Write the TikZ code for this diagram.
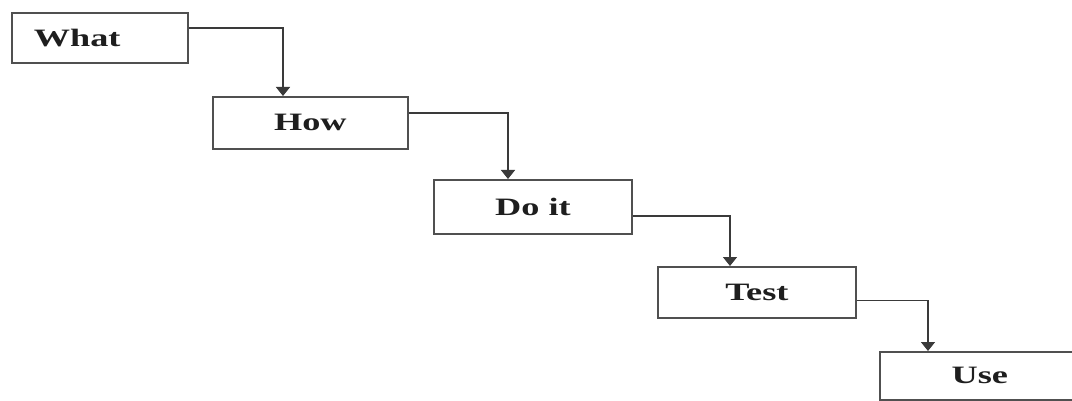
\documentclass[tikz,border=0pt]{standalone}
\usepackage{fontspec}
\setmainfont{Liberation Serif}
\usepackage{graphicx}
\usetikzlibrary{arrows.meta}
\definecolor{boxline}{HTML}{505050}
\definecolor{conline}{HTML}{3A3A3A}
\definecolor{txt}{HTML}{1E1E1E}
\tikzset{
  stepbox/.style={draw=boxline, line width=1.8pt, rectangle, inner sep=0pt, anchor=north west,
    font=\fontsize{25}{25}\selectfont\bfseries, text=txt},
  conn/.style={draw=conline, line width=1.4pt, -{Triangle[width=14pt,length=9pt]}}
}
\newcommand{\wide}[1]{\scalebox{1.45}[1]{#1}}
\begin{document}
\begin{tikzpicture}[x=1pt,y=-1pt]
\useasboundingbox (0,0) rectangle (1072,401);
\fill[white] (0,0) rectangle (1072,401);
\clip (0,0) rectangle (1072,401);
\node[stepbox, minimum width=176pt, minimum height=50pt] (what) at (11,12) {\makebox[176pt][l]{\hspace{22pt}\wide{What}}};
\node[stepbox, minimum width=195pt, minimum height=52pt] (how) at (212,96) {\wide{How}};
\node[stepbox, minimum width=198pt, minimum height=54pt] (doit) at (433,179) {\wide{Do it}};
\node[stepbox, minimum width=198pt, minimum height=51pt] (test) at (657,266) {\wide{Test}};
\node[stepbox, minimum width=200pt, minimum height=48pt] (use) at (879,351) {\wide{Use}};
\draw[conn] ([yshift=10pt]what.east) -| ([xshift=71pt]how.north west);
\draw[conn] ([yshift=10pt]how.east) -| ([xshift=75pt]doit.north west);
\draw[conn] ([yshift=-9pt]doit.east) -| ([xshift=73pt]test.north west);
\draw[conn] ([yshift=-8pt]test.east) -| ([xshift=49pt]use.north west);
\end{tikzpicture}
\end{document}
